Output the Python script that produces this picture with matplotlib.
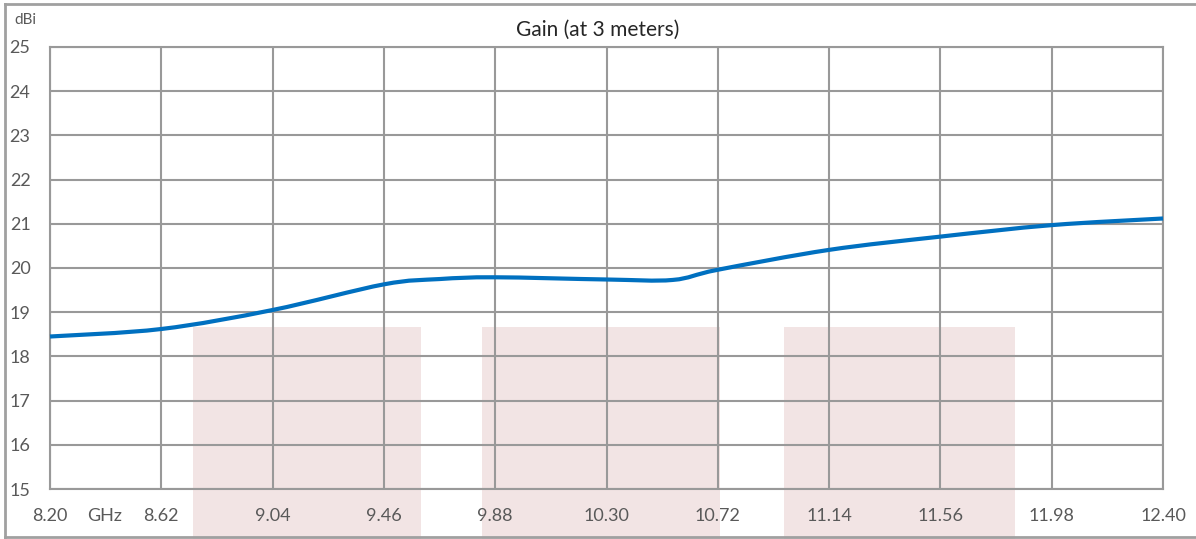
import matplotlib.pyplot as plt
import numpy as np
from matplotlib.path import Path
from matplotlib.patches import PathPatch, Rectangle
from matplotlib.lines import Line2D

# gain curve
freq = [8.20, 8.62, 9.04, 9.46, 9.67, 9.88, 10.30, 10.55, 10.72, 11.14, 11.56, 11.98, 12.40]
gain = [18.45, 18.62, 19.05, 19.63, 19.75, 19.79, 19.74, 19.73, 19.96, 20.41, 20.71, 20.97, 21.12]

xticks = [8.20, 8.62, 9.04, 9.46, 9.88, 10.30, 10.72, 11.14, 11.56, 11.98, 12.40]
xlabels = ["8.20", "8.62", "9.04", "9.46", "9.88", "10.30", "10.72", "11.14", "11.56", "11.98", "12.40"]
yticks = list(range(15, 26))

# shaded bands (start, end), top level
bands = [(8.74, 9.60), (9.83, 10.73), (10.97, 11.84)]
band_top = 18.67

GRID = "#999999"
TXT = "#595959"
BLUE = "#0070C0"
PINK = "#F2E4E4"

plt.rcParams['font.family'] = ['Lato', 'DejaVu Sans']

fig = plt.figure(figsize=(11.96, 5.39), dpi=100)
ax = fig.add_axes([50/1196, 50/539, 1113/1196, 442/539])
ax.set_xlim(8.2, 12.4)
ax.set_ylim(15, 25)
ax.patch.set_visible(False)

for b0, b1 in bands:
    ax.add_patch(Rectangle((b0, 13.8), b1 - b0, band_top - 13.8, facecolor=PINK,
                           edgecolor="none", clip_on=False, zorder=0.1))

ax.set_axisbelow(True)
ax.grid(True, color=GRID, linewidth=1.5)
for s in ax.spines.values():
    s.set_color(GRID)
    s.set_linewidth(1.5)

# smoothed line (Catmull-Rom -> Bezier), like a spreadsheet smooth line
pts = np.column_stack([freq, gain])
verts = [pts[0]]
codes = [Path.MOVETO]
for i in range(len(pts) - 1):
    p0 = pts[i - 1] if i > 0 else pts[i]
    p1 = pts[i]
    p2 = pts[i + 1]
    p3 = pts[i + 2] if i + 2 < len(pts) else pts[i + 1]
    c1 = p1 + (p2 - p0) / 6
    c2 = p2 - (p3 - p1) / 6
    verts += [c1, c2, p2]
    codes += [Path.CURVE4] * 3
ax.add_patch(PathPatch(Path(verts, codes), facecolor="none", edgecolor=BLUE,
                       linewidth=3, capstyle="butt", zorder=3, clip_on=False))

ax.set_xticks(xticks)
ax.set_xticklabels(xlabels)
ax.set_yticks(yticks)
ax.tick_params(axis="x", length=0, pad=14, labelsize=13, labelcolor=TXT)
ax.tick_params(axis="y", length=0, pad=14, labelsize=13, labelcolor=TXT)

fig.text(105/1196, 1 - 516/539, "GHz", ha="center", va="center", fontsize=13, color=TXT)
fig.text(14/1196, 1 - 20/539, "dBi", ha="left", va="center", fontsize=11, color=TXT)
fig.text(0.5, 1 - 30/539, "Gain (at 3 meters)", ha="center", va="center", fontsize=15, color="#262626")

# outer frame
fig.add_artist(Line2D([5/1196, 5/1196], [2/539, 1 - 4/539], transform=fig.transFigure, color="#A0A0A0", linewidth=2))
fig.add_artist(Line2D([5/1196, 1], [1 - 4/539, 1 - 4/539], transform=fig.transFigure, color="#A0A0A0", linewidth=2))
fig.add_artist(Line2D([5/1196, 1], [2/539, 2/539], transform=fig.transFigure, color="#A0A0A0", linewidth=2))

fig.savefig("out.png", dpi=100)
